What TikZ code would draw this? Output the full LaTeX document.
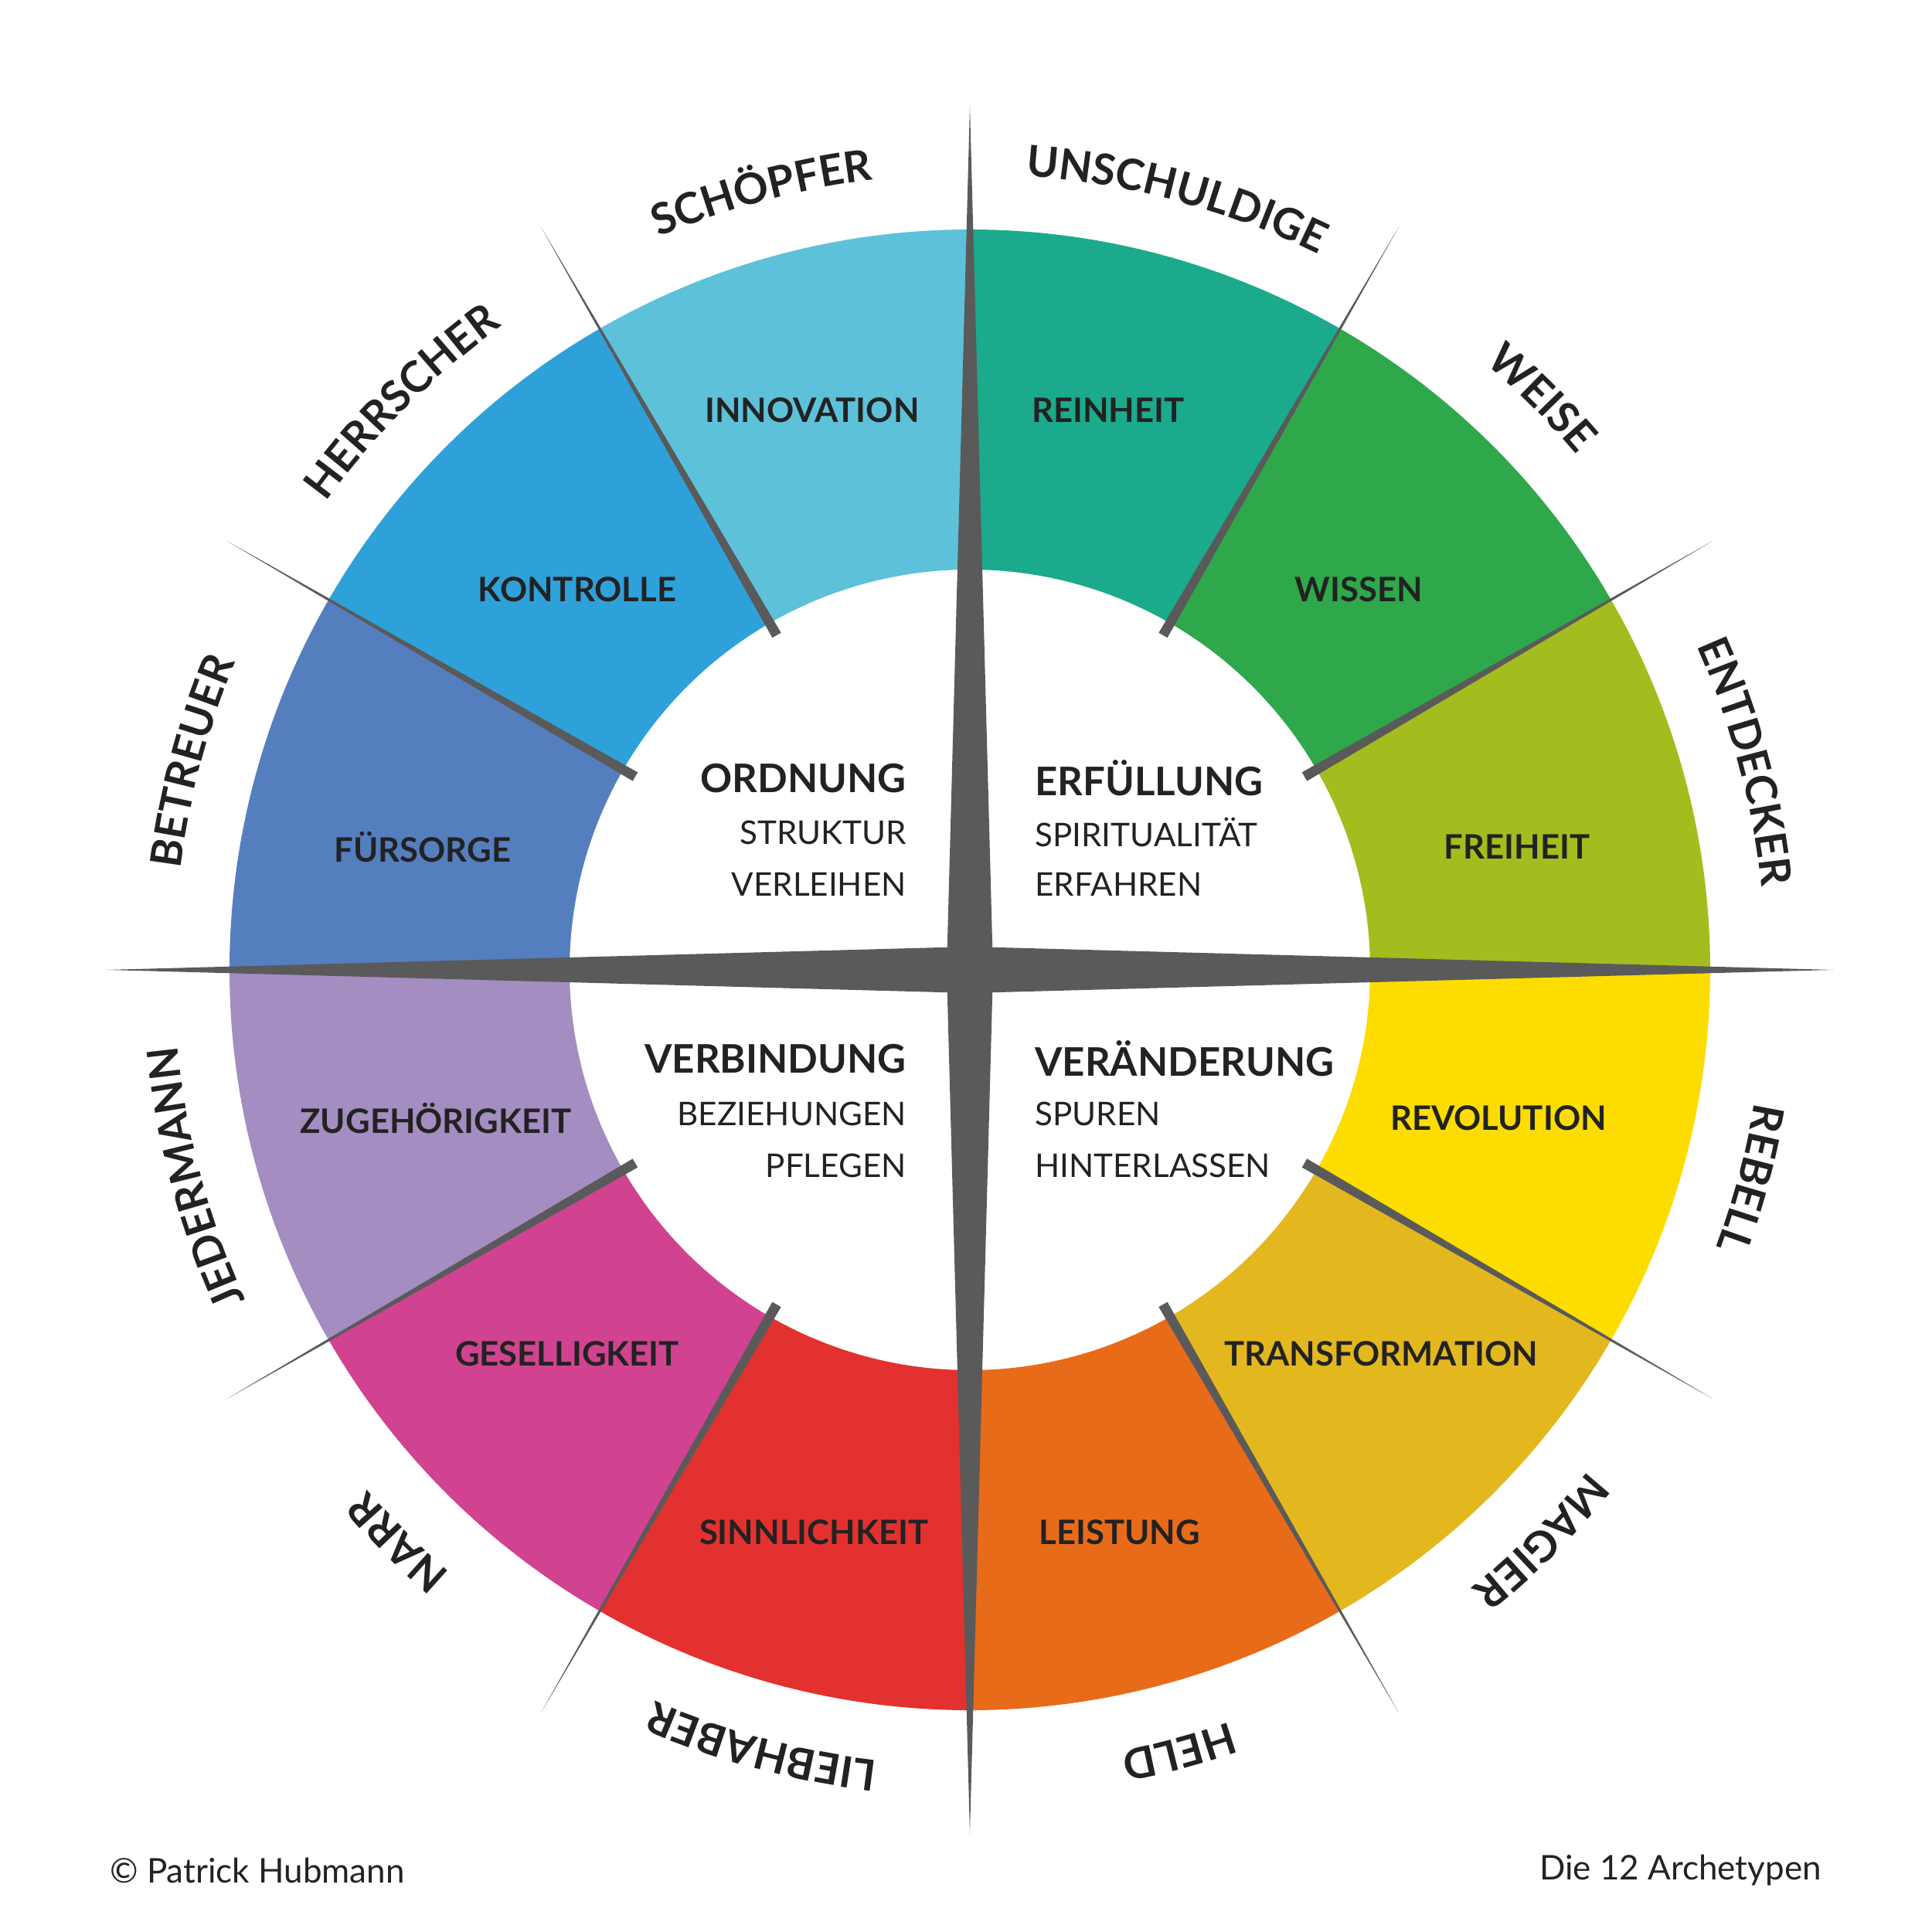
\documentclass[tikz,border=0pt]{standalone}
\usepackage{fontspec}
\setmainfont{Lato}
\usetikzlibrary{decorations.text}
\definecolor{cA}{HTML}{1BAA8C}
\definecolor{cB}{HTML}{2EA84A}
\definecolor{cC}{HTML}{A3BD1E}
\definecolor{cD}{HTML}{FDDC00}
\definecolor{cE}{HTML}{E3B81F}
\definecolor{cF}{HTML}{E86B1A}
\definecolor{cG}{HTML}{E3312F}
\definecolor{cH}{HTML}{D14391}
\definecolor{cI}{HTML}{A48DC0}
\definecolor{cJ}{HTML}{557EBF}
\definecolor{cK}{HTML}{2FA1DA}
\definecolor{cL}{HTML}{5EC1DA}
\definecolor{star}{HTML}{5A5A5A}
\definecolor{ink}{HTML}{222222}
\newcommand\archfont{\fontsize{15.8}{18}\selectfont\bfseries}
\begin{document}
\begin{tikzpicture}[
  seg/.style={text=ink,font=\fontsize{12.4}{14}\selectfont\bfseries},
  head/.style={text=ink,font=\fontsize{14.5}{16}\selectfont\bfseries},
  sub/.style={text=ink,font=\fontsize{12}{14}\selectfont},
  foot/.style={text=ink,font=\fontsize{12.5}{14}\selectfont}]
\useasboundingbox (-12.55,-12.45) rectangle (12.45,12.55);
\fill[white] (-12.55,-12.45) rectangle (12.45,12.55);
\foreach \a/\c in {90/cA,60/cB,30/cC,0/cD,-30/cE,-60/cF,-90/cG,-120/cH,-150/cI,-180/cJ,-210/cK,-240/cL}{
  \fill[\c] (\a:5.18) -- (\a:9.58) arc[start angle=\a,end angle=\a-30,radius=9.58] -- (\a-30:5.18) arc[start angle=\a-30,end angle=\a,radius=5.18] -- cycle;
}
\foreach \a in {30,60,120,150,210,240,300,330}{
  \fill[star,rotate=\a] (5.0,-0.065) -- (11.1,0) -- (5.0,0.065) -- cycle;
}
\fill[star] (0,11.17) -- (0.3,0) -- (0,-11.17) -- (-0.3,0) -- cycle;
\fill[star] (11.17,0) -- (0,0.3) -- (-11.17,0) -- (0,-0.3) -- cycle;
\node[seg] (innovation) at (-2.04,7.24) {INNOVATION};
\node[seg] (reinheit) at (1.79,7.24) {REINHEIT};
\node[seg] (kontrolle) at (-5.08,4.92) {KONTROLLE};
\node[seg] (wissen) at (5.03,4.92) {WISSEN};
\node[seg] (fuersorge) at (-7.08,1.59) {FÜRSORGE};
\node[seg] (freiheit) at (7.08,1.59) {FREIHEIT};
\node[seg] (zugeh) at (-6.91,-1.92) {ZUGEHÖRIGKEIT};
\node[seg] (revolution) at (6.84,-1.92) {REVOLUTION};
\node[seg] (gesellig) at (-5.21,-4.97) {GESELLIGKEIT};
\node[seg] (transf) at (5.32,-4.97) {TRANSFORMATION};
\node[seg] (sinnl) at (-2.02,-7.28) {SINNLICHKEIT};
\node[seg] (leistung) at (1.94,-7.28) {LEISTUNG};
\node[head,anchor=east] (ordnung) at (-0.70,2.48) {ORDNUNG};
\node[sub,anchor=east] (struktur) at (-0.70,1.78) {STRUKTUR};
\node[sub,anchor=east] (verleihen) at (-0.70,1.11) {VERLEIHEN};
\node[head,anchor=west] (erfuellung) at (0.72,2.48) {ERFÜLLUNG};
\node[sub,anchor=west] (spirit) at (0.72,1.78) {SPIRITUALITÄT};
\node[sub,anchor=west] (erfahren) at (0.72,1.11) {ERFAHREN};
\node[head,anchor=east] (verbindung) at (-0.70,-1.15) {VERBINDUNG};
\node[sub,anchor=east] (bezieh) at (-0.70,-1.86) {BEZIEHUNGEN};
\node[sub,anchor=east] (pflegen) at (-0.70,-2.53) {PFLEGEN};
\node[head,anchor=west] (veraend) at (0.72,-1.15) {VERÄNDERUNG};
\node[sub,anchor=west] (spuren) at (0.72,-1.86) {SPUREN};
\node[sub,anchor=west] (hinter) at (0.72,-2.53) {HINTERLASSEN};
\foreach \a/\t in {105/SCHÖPFER,75/UNSCHULDIGE,135/HERRSCHER,45/WEISE,165/BETREUER,15/ENTDECKER,195/JEDERMANN,-15/REBELL,225/NARR,-45/MAGIER,255/LIEBHABER,-75/HELD}{
  \path[decorate,decoration={text along path,text align=center,text color=ink,
     text format delimiters={|}{|},text={|\archfont|\t}}]
     (\a+25:10.3) arc[start angle=\a+25,end angle=\a-25,radius=10.3];
}
\node[foot,anchor=west] (copy) at (-11.25,-11.65) {© Patrick Hubmann};
\node[foot,anchor=east] (title) at (11.14,-11.65) {Die 12 Archetypen};
\end{tikzpicture}
\end{document}
